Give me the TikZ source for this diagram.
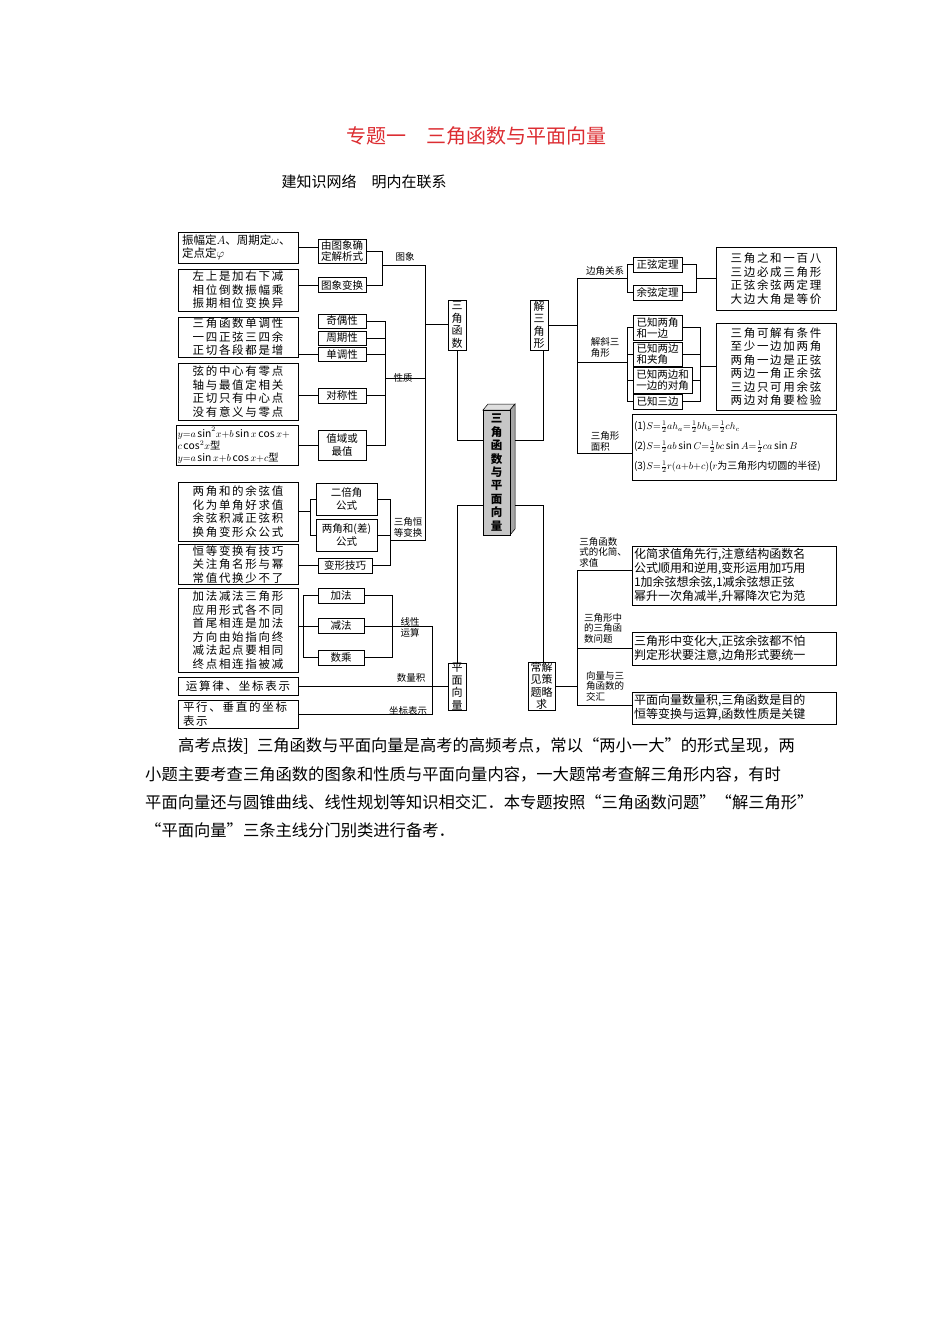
\documentclass[tikz,border=0pt]{standalone}
\usepackage{fontspec}
\setmainfont{Noto Sans CJK SC}
\newfontfamily\spc[LetterSpace=15]{Noto Sans CJK SC}
\definecolor{titlered}{RGB}{220,45,50}
\begin{document}
\begin{tikzpicture}[x=1pt,y=-1pt,
  bx/.style={draw,line width=0.6pt,inner sep=1pt,align=center,font=\spc\fontsize{11.5}{13.5}\selectfont},
  sm/.style={font=\fontsize{10.5}{11}\selectfont},
  lb/.style={inner sep=0pt,align=left,font=\fontsize{9.5}{11}\selectfont},
  vt/.style={draw,line width=0.6pt,inner sep=0pt,align=center,font=\fontsize{11}{12.5}\selectfont},
  ln/.style={line width=0.6pt},
  pg/.style={anchor=west,inner sep=0pt,font=\fontsize{16.3}{18}\selectfont}]
\useasboundingbox (0,0) rectangle (950,1344);
\node[font=\fontsize{20}{22}\selectfont,text=titlered] (title) at (476,136) {专题一\quad 三角函数与平面向量};
\node[font=\fontsize{15}{17}\selectfont,anchor=west] (sub) at (278,182) {建知识网络\quad 明内在联系};
% left column
\node[bx,minimum width=120,minimum height=31,align=left,text width=112,font=\fontsize{11.5}{13}\selectfont] (L1) at (238,247.5) {振幅定$A$、周期定$\omega$、\\定点定$\varphi$};
\node[bx,minimum width=120,minimum height=42] (L2) at (238,290) {左上是加右下减\\相位倒数振幅乘\\振期相位变换异};
\node[bx,minimum width=120,minimum height=40] (L3) at (238,337) {三角函数单调性\\一四正弦三四余\\正切各段都是增};
\node[bx,minimum width=120,minimum height=57] (L4) at (238,391.5) {弦的中心有零点\\轴与最值定相关\\正切只有中心点\\没有意义与零点};
\node[bx,minimum width=122,minimum height=39,align=left,text width=119,inner sep=1.5pt,font=\fontsize{10.3}{12.3}\selectfont] (L5) at (237,445.5) {$y{=}a\sin^2\!x{+}b\sin x\cos x{+}$\\$c\cos^2\!x$型\\$y{=}a\sin x{+}b\cos x{+}c$型};
\node[bx,minimum width=120,minimum height=59] (L6) at (238,511.5) {两角和的余弦值\\化为单角好求值\\余弦积减正弦积\\换角变形众公式};
\node[bx,minimum width=120,minimum height=39] (L7) at (238,564.5) {恒等变换有技巧\\关注角名形与幂\\常值代换少不了};
\node[bx,minimum width=120,minimum height=84] (L8) at (238,630) {加法减法三角形\\应用形式各不同\\首尾相连是加法\\方向由始指向终\\减法起点要相同\\终点相连指被减};
\node[bx,minimum width=120,minimum height=18] (L9) at (238,686) {运算律、坐标表示};
\node[bx,minimum width=120,minimum height=28,align=left,text width=110] (L10) at (238,714) {平行、垂直的坐标\\表示};
% middle-left
\node[bx,sm,minimum width=48,minimum height=24] (M1) at (342,251) {由图象确\\定解析式};
\node[bx,sm,minimum width=48,minimum height=15] (M2) at (342,285) {图象变换};
\node[bx,sm,minimum width=48,minimum height=14] (M3) at (342,321) {奇偶性};
\node[bx,sm,minimum width=48,minimum height=14] (M4) at (342,338) {周期性};
\node[bx,sm,minimum width=48,minimum height=14] (M5) at (342,354) {单调性};
\node[bx,sm,minimum width=48,minimum height=15] (M6) at (342,395.5) {对称性};
\node[bx,minimum width=48,minimum height=30,font=\fontsize{10.5}{13}\selectfont] (M7) at (342,445) {值域或\\最值};
\node[bx,minimum width=61,minimum height=32,font=\fontsize{10.5}{13}\selectfont] (M8) at (346.5,499) {二倍角\\公式};
\node[bx,minimum width=61,minimum height=32,font=\fontsize{10.5}{13}\selectfont] (M9) at (346.5,535) {两角和(差)\\公式};
\node[bx,sm,minimum width=54,minimum height=15] (M10) at (345,565.5) {变形技巧};
\node[bx,sm,minimum width=46,minimum height=15] (M11) at (341,595.5) {加法};
\node[bx,sm,minimum width=46,minimum height=15] (M12) at (341,626) {减法};
\node[bx,sm,minimum width=46,minimum height=15] (M13) at (341,657.5) {数乘};
% labels left
\node[lb] (g1) at (405,257) {图象};
\node[lb] (g2) at (403,378) {性质};
\node[lb] (g3) at (408,527) {三角恒\\等变换};
\node[lb] (g4) at (410,627) {线性\\运算};
\node[lb] (g5) at (411,678) {数量积};
\node[lb] (g6) at (408,711) {坐标表示};
% trunk boxes
\node[vt,minimum width=18,minimum height=50] (T1) at (457,325) {三\\角\\函\\数};
\node[vt,minimum width=18,minimum height=47] (P) at (457,686.5) {平\\面\\向\\量};
\node[vt,minimum width=18,minimum height=50] (J) at (539,325) {解\\三\\角\\形};
\node[vt,minimum width=27,minimum height=48] (C) at (541.5,686) {常解\\见策\\题略\\求};
% central box
\fill[gray!25,draw=black,line width=0.5pt] (483,410) -- (488,404) -- (515,404) -- (510,410) -- cycle;
\fill[gray!70,draw=black,line width=0.5pt] (510,410) -- (515,404) -- (515,529) -- (510,535) -- cycle;
\node[draw,fill=gray!45,line width=0.5pt,minimum width=27,minimum height=125,inner sep=0pt,align=center,font=\bfseries\fontsize{11.5}{13.4}\selectfont] (cen) at (496.5,472.5) {三\\角\\函\\数\\与\\平\\面\\向\\量};
% right boxes
\node[bx,sm,minimum width=49,minimum height=15] (Z1) at (657.5,264.5) {正弦定理};
\node[bx,sm,minimum width=49,minimum height=15] (Z2) at (657.5,292.5) {余弦定理};
\node[bx,minimum width=120,minimum height=63] (R1) at (776,278.5) {三角之和一百八\\三边必成三角形\\正弦余弦两定理\\大边大角是等价};
\node[bx,sm,minimum width=49,minimum height=25,align=left] (B1) at (657.5,327.5) {已知两角\\和一边};
\node[bx,sm,minimum width=49,minimum height=24,align=left] (B2) at (657.5,354) {已知两边\\和夹角};
\node[bx,sm,minimum width=59,minimum height=26,align=left] (B3) at (662.5,380) {已知两边和\\一边的对角};
\node[bx,sm,minimum width=49,minimum height=15] (B4) at (657.5,401.5) {已知三边};
\node[bx,minimum width=120,minimum height=87] (R2) at (776,366.5) {三角可解有条件\\至少一边加两角\\两角一边是正弦\\两边一角正余弦\\三边只可用余弦\\两边对角要检验};
\node[bx,minimum width=204,minimum height=66,align=left,text width=200,inner sep=1pt,font=\fontsize{10}{12}\selectfont] (F) at (734,447) {(1)$S{=}\frac12ah_a{=}\frac12bh_b{=}\frac12ch_c$\\[8pt](2)$S{=}\frac12ab\sin C{=}\frac12bc\sin A{=}\frac12ca\sin B$\\[8pt](3)$S{=}\frac12r(a{+}b{+}c)$($r$为三角形内切圆的半径)};
\node[bx,minimum width=204,minimum height=59,align=left,text width=200,font=\fontsize{12}{14}\selectfont] (S1) at (734,575.5) {化简求值角先行,注意结构函数名\\公式顺用和逆用,变形运用加巧用\\1加余弦想余弦,1减余弦想正弦\\幂升一次角减半,升幂降次它为范};
\node[bx,minimum width=204,minimum height=33,align=left,text width=200,font=\fontsize{12}{14}\selectfont] (S2) at (734,648.5) {三角形中变化大,正弦余弦都不怕\\判定形状要注意,边角形式要统一};
\node[bx,minimum width=204,minimum height=32,align=left,text width=200,font=\fontsize{12}{14}\selectfont] (S3) at (734,708) {平面向量数量积,三角函数是目的\\恒等变换与运算,函数性质是关键};
% right labels
\node[lb] (r1) at (605,271) {边角关系};
\node[lb] (r2) at (605,347) {解斜三\\角形};
\node[lb] (r3) at (605,441) {三角形\\面积};
\node[lb,font=\fontsize{9.5}{10.5}\selectfont] (r4) at (603,552) {三角函数\\式的化简、\\求值};
\node[lb,font=\fontsize{9.5}{10.5}\selectfont] (r5) at (603,628) {三角形中\\的三角函\\数问题};
\node[lb,font=\fontsize{9.5}{10.5}\selectfont] (r6) at (605,686) {向量与三\\角函数的\\交汇};
% connectors left
\draw[ln] (L1.east) -- (L1.east -| M1.west);
\draw[ln] (L2.east |- M2) -- (M2.west);
\draw[ln] (M1.east) -- (382,251) -- (382,285) -- (M2.east);
\draw[ln] (382,265) -- (425,265) -- (425,540) -- (390,540);
\draw[ln] (425,324) -- (T1.west |- 0,324);
\draw[ln] (M3.east) -- (385,321) -- (385,445) -- (M7.east);
\draw[ln] (M4.east) -- (385,338);
\draw[ln] (M5.east) -- (385,354);
\draw[ln] (M6.east) -- (385,395.5);
\draw[ln] (385,378) -- (425,378);
\draw[ln] (L3.east |- M5) -- (M5.west);
\draw[ln] (L4.east |- M6) -- (M6.west);
\draw[ln] (L5.east |- M7) -- (M7.west);
\draw[ln] (L6.east) -- (310,511.5);
\draw[ln] (M8.west) -- (310,499) -- (310,535) -- (M9.west);
\draw[ln] (M8.east) -- (390,499) -- (390,565.5) -- (M10.east);
\draw[ln] (M9.east) -- (390,535);
\draw[ln] (L7.east |- M10) -- (M10.west);
\draw[ln] (L8.east |- M12) -- (M12.west);
\draw[ln] (M11.west) -- (303,595.5) -- (303,657.5) -- (M13.west);
\draw[ln] (M11.east) -- (392,595.5) -- (392,657.5) -- (M13.east);
\draw[ln] (M12.east) -- (432,626) -- (432,714) -- (L10.east);
\draw[ln] (L9.east) -- (P.west |- L9);
% central
\draw[ln] (T1.south) -- (457,440) -- (cen.west |- 0,440);
\draw[ln] (515,440) -- (543,440) -- (J.south -| 543,0);
\draw[ln] (cen.west |- 0,505) -- (457,505) -- (P.north);
\draw[ln] (515,505) -- (543,505) -- (C.north -| 543,0);
% right connectors
\draw[ln] (J.east) -- (577,325);
\draw[ln] (577,278) -- (577,453) -- (F.west |- 0,453);
\draw[ln] (577,278) -- (627,278);
\draw[ln] (Z1.west) -- (627,264.5) -- (627,292.5) -- (Z2.west);
\draw[ln] (Z1.east) -- (696,264.5) -- (696,292.5) -- (Z2.east);
\draw[ln] (696,278.5) -- (R1.west);
\draw[ln] (577,362) -- (627,362);
\draw[ln] (B1.west) -- (627,327.5) -- (627,401.5) -- (B4.west);
\draw[ln] (B2.west) -- (627,354); \draw[ln] (B3.west) -- (627,380);
\draw[ln] (B1.east) -- (700,327.5) -- (700,401.5) -- (B4.east);
\draw[ln] (B2.east) -- (700,354); \draw[ln] (B3.east) -- (700,380);
\draw[ln] (700,366.5) -- (R2.west);
\draw[ln] (C.east) -- (577,686);
\draw[ln] (577,570) -- (577,705) -- (S3.west |- 0,705);
\draw[ln] (577,570) -- (S1.west |- 0,570);
\draw[ln] (577,648.5) -- (S2.west);
% paragraph
\node[pg] (p1) at (178,746) {高考点拨]\enspace 三角函数与平面向量是高考的高频考点，常以“两小一大”的形式呈现，两};
\node[pg] (p2) at (145,774) {小题主要考查三角函数的图象和性质与平面向量内容，一大题常考查解三角形内容，有时};
\node[pg] (p3) at (145,802) {平面向量还与圆锥曲线、线性规划等知识相交汇．本专题按照“三角函数问题”“解三角形”};
\node[pg] (p4) at (145,830) {“平面向量”三条主线分门别类进行备考．};
\end{tikzpicture}
\end{document}
